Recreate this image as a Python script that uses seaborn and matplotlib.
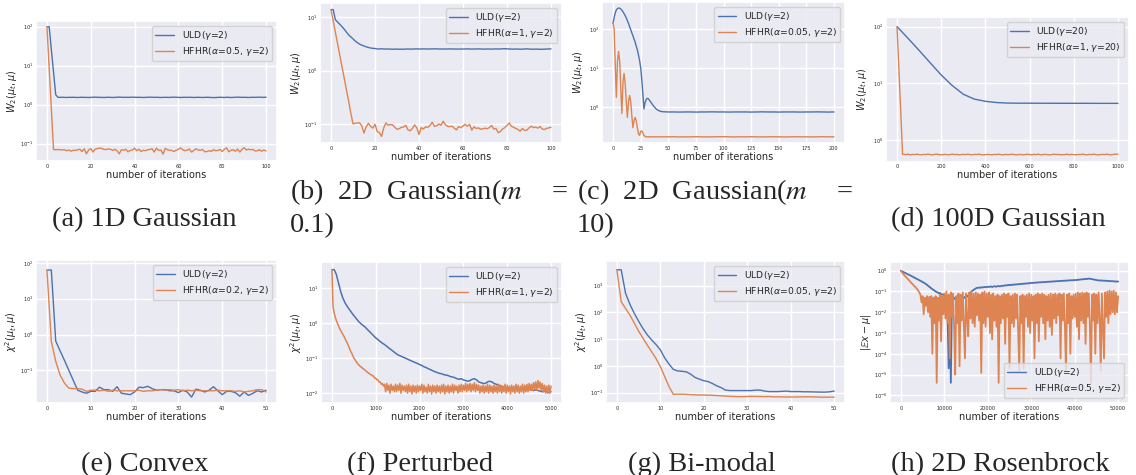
import numpy as np
import pandas as pd
import matplotlib
matplotlib.use("Agg")
import matplotlib.pyplot as plt
import seaborn as sns
from matplotlib.ticker import MultipleLocator

# ---------------- data ----------------
# (a) 1D Gaussian, W2 distance, iterations 0..100
a_uld = [100, 100, 26, 6.9, 1.8, 1.55,
         1.54, 1.55, 1.54, 1.53, 1.55, 1.54, 1.55, 1.54, 1.53, 1.54,
         1.55, 1.54, 1.54, 1.53, 1.54, 1.55, 1.56, 1.55, 1.54, 1.54,
         1.53, 1.54, 1.55, 1.54, 1.53, 1.54, 1.55, 1.57, 1.55, 1.54,
         1.55, 1.54, 1.55, 1.56, 1.55, 1.54, 1.55, 1.54, 1.53, 1.54,
         1.55, 1.56, 1.55, 1.54, 1.55, 1.54, 1.53, 1.54, 1.55, 1.54,
         1.54, 1.55, 1.56, 1.55, 1.54, 1.53, 1.54, 1.55, 1.54, 1.55,
         1.54, 1.53, 1.54, 1.55, 1.54, 1.53, 1.54, 1.55, 1.54, 1.53,
         1.52, 1.53, 1.54, 1.55, 1.54, 1.53, 1.55, 1.54, 1.53, 1.54,
         1.55, 1.56, 1.55, 1.54, 1.55, 1.54, 1.53, 1.54, 1.55, 1.54,
         1.55, 1.56, 1.55, 1.54, 1.56]
a_hfhr = [100, 8.9, 0.79,
          0.071, 0.070, 0.071, 0.070, 0.069, 0.070, 0.066, 0.069, 0.064, 0.068,
          0.067, 0.070, 0.072, 0.063, 0.074, 0.055, 0.069, 0.075, 0.061, 0.072,
          0.075, 0.077, 0.076, 0.071, 0.071, 0.073, 0.072, 0.067, 0.072, 0.066,
          0.055, 0.070, 0.068, 0.072, 0.062, 0.067, 0.069, 0.077, 0.066, 0.072,
          0.063, 0.068, 0.066, 0.070, 0.071, 0.074, 0.061, 0.077, 0.067, 0.069,
          0.054, 0.076, 0.070, 0.068, 0.067, 0.063, 0.068, 0.072, 0.078, 0.070,
          0.066, 0.068, 0.073, 0.061, 0.067, 0.074, 0.069, 0.068, 0.071, 0.062,
          0.063, 0.066, 0.063, 0.070, 0.066, 0.067, 0.071, 0.063, 0.072, 0.078,
          0.062, 0.068, 0.070, 0.064, 0.073, 0.061, 0.071, 0.079, 0.069, 0.072,
          0.070, 0.071, 0.065, 0.066, 0.070, 0.064, 0.069, 0.065]

# (b) 2D Gaussian m=0.1, iterations 0..100
b_uld = [14, 14, 9.0, 8.2, 7.4, 6.7, 6.0, 5.3, 4.7, 4.3, 3.95,
         3.6, 3.35, 3.15, 3.0, 2.9, 2.8, 2.72, 2.66, 2.62, 2.6,
         2.56, 2.55, 2.57, 2.55, 2.54, 2.55, 2.53, 2.52, 2.53, 2.54,
         2.52, 2.53, 2.52, 2.54, 2.55, 2.53, 2.54, 2.55, 2.56, 2.54,
         2.55, 2.56, 2.55, 2.54, 2.56, 2.55, 2.57, 2.56, 2.55, 2.54,
         2.55, 2.54, 2.55, 2.56, 2.55, 2.54, 2.55, 2.53, 2.55, 2.54,
         2.55, 2.56, 2.55, 2.53, 2.55, 2.54, 2.56, 2.55, 2.53, 2.54,
         2.55, 2.54, 2.53, 2.55, 2.56, 2.54, 2.55, 2.57, 2.58, 2.56,
         2.55, 2.54, 2.53, 2.55, 2.54, 2.52, 2.53, 2.55, 2.56, 2.54,
         2.53, 2.52, 2.54, 2.53, 2.51, 2.52, 2.53, 2.54, 2.55, 2.56]
b_hfhr = [14, 8.6, 5.2, 3.2, 1.94, 1.19, 0.72, 0.44, 0.27, 0.16, 0.10,
          0.102, 0.104, 0.104, 0.092, 0.067, 0.088, 0.102, 0.090, 0.083, 0.098,
          0.072, 0.068, 0.058, 0.085, 0.104, 0.094, 0.097, 0.096, 0.086, 0.079,
          0.081, 0.086, 0.087, 0.094, 0.077, 0.074, 0.082, 0.096, 0.084, 0.063,
          0.085, 0.080, 0.088, 0.086, 0.093, 0.107, 0.090, 0.092, 0.099, 0.094,
          0.112, 0.096, 0.090, 0.088, 0.091, 0.083, 0.077, 0.089, 0.085, 0.091,
          0.098, 0.090, 0.098, 0.076, 0.088, 0.082, 0.084, 0.079, 0.081, 0.083,
          0.081, 0.085, 0.093, 0.080, 0.082, 0.068, 0.072, 0.080, 0.085, 0.093,
          0.104, 0.090, 0.086, 0.082, 0.078, 0.073, 0.082, 0.075, 0.076, 0.084,
          0.090, 0.085, 0.087, 0.083, 0.089, 0.080, 0.078, 0.082, 0.084, 0.086]

# (c) 2D Gaussian m=10: iterations 0..45 every step, then 50..200 every 5
c_uld_head = [141, 200, 263, 316, 339, 351, 347, 331, 309, 282,
              251, 224, 195, 166, 141, 117, 98, 81, 68, 56,
              47, 37, 30, 22, 16, 10.5, 5.2, 2.2, 0.91, 1.32,
              1.58, 1.70, 1.66, 1.51, 1.38, 1.26, 1.15, 1.05, 0.98, 0.91,
              0.87, 0.83, 0.81, 0.79, 0.78, 0.77]
c_uld_tail = [0.76, 0.76, 0.755, 0.76, 0.76, 0.755, 0.76, 0.76, 0.765, 0.76,
              0.76, 0.755, 0.76, 0.76, 0.76, 0.755, 0.76, 0.765, 0.76, 0.76,
              0.755, 0.76, 0.76, 0.76, 0.755, 0.76, 0.76, 0.765, 0.76, 0.755,
              0.76]
c_hfhr_head = [150, 100, 12, 1.8, 15, 27, 15, 3, 0.7, 4.5,
               7.4, 4, 1.3, 0.55, 1.4, 2.0, 1.4, 0.6, 0.3, 0.45,
               0.55, 0.45, 0.3, 0.21, 0.19, 0.24, 0.25, 0.22, 0.19, 0.18,
               0.175, 0.175, 0.174, 0.175, 0.176, 0.175, 0.174, 0.175, 0.175, 0.176,
               0.175, 0.174, 0.175, 0.175, 0.176, 0.175]
c_hfhr_tail = [0.175, 0.176, 0.174, 0.175, 0.175, 0.176, 0.175, 0.174, 0.175, 0.176,
               0.177, 0.175, 0.174, 0.175, 0.175, 0.176, 0.175, 0.174, 0.175, 0.176,
               0.175, 0.174, 0.175, 0.176, 0.175, 0.175, 0.174, 0.175, 0.176, 0.175,
               0.175]

# (d) 100D Gaussian: ULD every 50 iterations; HFHR 0..25 every 5, then every 10
d_uld = [100, 62, 38, 23, 14, 9.1, 6.4, 5.25, 4.8, 4.57, 4.47,
         4.45, 4.45, 4.44, 4.44, 4.43, 4.43, 4.43, 4.42, 4.42, 4.42]
d_hfhr_head = [100, 35, 12.6, 4.5, 1.6, 0.56]
d_hfhr_tail = [0.555, 0.55, 0.56, 0.545, 0.555, 0.55, 0.56, 0.55, 0.545, 0.555,
               0.55, 0.56, 0.55, 0.545, 0.555, 0.56, 0.55, 0.545, 0.55, 0.555,
               0.545, 0.55, 0.56, 0.55, 0.555, 0.545, 0.55, 0.555, 0.55, 0.56,
               0.55, 0.545, 0.555, 0.55, 0.56, 0.55, 0.545, 0.55, 0.555, 0.55,
               0.545, 0.555, 0.55, 0.56, 0.55, 0.545, 0.555, 0.55, 0.55, 0.56,
               0.55, 0.545, 0.55, 0.555, 0.545, 0.55, 0.56, 0.55, 0.545, 0.555,
               0.55, 0.56, 0.545, 0.55, 0.555, 0.55, 0.545, 0.55, 0.56, 0.55,
               0.555, 0.545, 0.55, 0.55, 0.56, 0.545, 0.555, 0.55, 0.545, 0.555,
               0.55, 0.56, 0.55, 0.545, 0.555, 0.55, 0.56, 0.55, 0.545, 0.55,
               0.555, 0.55, 0.56, 0.55, 0.545, 0.555, 0.56, 0.56]

# (e) Convex, chi^2, iterations 0..50
e_uld = [63, 63, 0.66, 0.35, 0.19, 0.10, 0.053, 0.028, 0.025, 0.023,
         0.026, 0.026, 0.034, 0.029, 0.029, 0.026, 0.035, 0.023, 0.022, 0.021,
         0.025, 0.034, 0.033, 0.036, 0.031, 0.028, 0.029, 0.029, 0.027, 0.027,
         0.024, 0.028, 0.025, 0.018, 0.030, 0.028, 0.025, 0.028, 0.035, 0.027,
         0.021, 0.026, 0.026, 0.024, 0.019, 0.025, 0.020, 0.023, 0.027, 0.025,
         0.028]
e_hfhr = [63, 0.64, 0.18, 0.074, 0.044, 0.032, 0.031, 0.031, 0.030, 0.026,
          0.028, 0.028, 0.027, 0.028, 0.026, 0.028, 0.027, 0.027, 0.027, 0.027,
          0.027, 0.028, 0.026, 0.027, 0.027, 0.028, 0.029, 0.028, 0.029, 0.028,
          0.029, 0.027, 0.028, 0.027, 0.028, 0.027, 0.027, 0.027, 0.027, 0.028,
          0.027, 0.027, 0.027, 0.026, 0.027, 0.025, 0.026, 0.027, 0.029, 0.029,
          0.025]

# (f) Perturbed: ULD every 50 iterations, HFHR every 25 iterations
f_uld = [34, 34, 25, 14, 8.0, 5.2, 3.8, 3.0, 2.45, 2.0,
         1.65, 1.38, 1.15, 1.0, 0.88, 0.79, 0.68, 0.59, 0.51, 0.44,
         0.38, 0.34, 0.30, 0.27, 0.245, 0.22, 0.195, 0.175, 0.157, 0.14,
         0.126, 0.118, 0.111, 0.104, 0.097, 0.091, 0.085, 0.080, 0.075, 0.071,
         0.066, 0.062, 0.057, 0.054, 0.050, 0.047, 0.044, 0.041, 0.039, 0.037,
         0.036, 0.034, 0.033, 0.032, 0.030, 0.029, 0.028, 0.026, 0.025, 0.026,
         0.024, 0.023, 0.022, 0.023, 0.025, 0.026, 0.024, 0.021, 0.020, 0.019,
         0.019, 0.021, 0.022, 0.021, 0.019, 0.018, 0.017, 0.016, 0.015, 0.015,
         0.014, 0.0145, 0.014, 0.0135, 0.014, 0.0135, 0.013, 0.0135, 0.013, 0.0125,
         0.013, 0.0125, 0.012, 0.0125, 0.012, 0.0115, 0.011, 0.0115, 0.011, 0.0105,
         0.011]
f_hfhr = [34, 3.0, 2.0, 1.5, 1.2, 1.0, 0.85, 0.7, 0.62, 0.55,
          0.48, 0.42, 0.36, 0.31, 0.27, 0.23, 0.19, 0.16, 0.14, 0.12,
          0.10, 0.092, 0.080, 0.074, 0.066, 0.063, 0.057, 0.056, 0.051, 0.049,
          0.046, 0.043, 0.041, 0.038, 0.037, 0.034, 0.034, 0.031, 0.031, 0.027,
          0.027, 0.024, 0.024, 0.021, 0.021, 0.018, 0.019, 0.016,
          .018, .011, .019, .012, .017, .010, .018, .012, .016, .011,
          .018, .011, .017, .012, .019, .010, .017, .012, .016, .011,
          .017, .010, .018, .011, .016, .0095, .017, .011, .016, .010,
          .017, .011, .016, .012, .018, .010, .017, .011, .015, .010,
          .018, .011, .016, .0095, .017, .011, .016, .010, .017, .011,
          .016, .010, .017, .011, .018, .0095, .016, .011, .017, .010,
          .016, .011, .018, .010, .017, .012, .016, .010, .017, .011,
          .018, .011, .017, .012, .019, .011, .018, .012, .019, .011,
          .018, .012, .020, .011, .018, .012, .017, .010, .016, .011,
          .017, .010, .016, .011, .018, .010, .017, .011, .016, .010,
          .017, .011, .016, .010, .018, .011, .017, .010, .016, .011,
          .018, .010, .017, .011, .016, .0095, .017, .011, .016, .010,
          .018, .011, .017, .010, .016, .011, .018, .010, .017, .011,
          .018, .011, .019, .012, .018, .012, .020, .013, .021, .012,
          .023, .014, .021, .012, .019, .011, .017, .010, .016, .010,
          .017, .010, .016]

# (g) Bi-modal, iterations 0..50
g_uld = [3900, 3900, 520, 200, 93, 47, 25, 14.5, 9.4, 6.3,
         4.0, 2.0, 1.17, 0.74, 0.65, 0.63, 0.6, 0.49, 0.37, 0.32,
         0.28, 0.26, 0.22, 0.18, 0.155, 0.125, 0.12, 0.12, 0.12, 0.12,
         0.12, 0.12, 0.125, 0.125, 0.115, 0.11, 0.11, 0.11, 0.112, 0.115,
         0.11, 0.11, 0.11, 0.108, 0.108, 0.107, 0.106, 0.105, 0.105, 0.108,
         0.115]
g_hfhr = [3900, 250, 140, 80, 40, 20, 11, 6, 3.4, 1.9,
          0.95, 0.4, 0.17, 0.087, 0.088, 0.088, 0.087, 0.084, 0.083, 0.082,
          0.082, 0.081, 0.080, 0.078, 0.076, 0.075, 0.073, 0.072, 0.071, 0.071,
          0.072, 0.073, 0.072, 0.072, 0.071, 0.072, 0.070, 0.070, 0.070, 0.069,
          0.069, 0.069, 0.070, 0.070, 0.070, 0.070, 0.069, 0.068, 0.068, 0.068,
          0.068]

# (h) 2D Rosenbrock, |E x - mu|, every 250 iterations
h_uld = [1.0, 0.94, 0.88, 0.83, 0.78, 0.73, 0.69, 0.65, 0.62, 0.58,
         0.55, 0.51, 0.48, 0.45, 0.42, 0.40, 0.37, 0.35, 0.33, 0.31,
         0.28, 0.27, 0.25, 0.23, 0.21, 0.19, 0.17, 0.16, 0.14, 0.13,
         0.12, 0.11, 0.10, 0.095, 0.09, 0.08, 0.085, 0.075, 0.07, 0.072,
         0.065, 0.06, 0.05, 0.006, 2e-5, 0.01, 4e-6, 0.03, 0.045, 0.05,
         0.042, 0.048, 0.05, 0.044, 0.047, 0.052, 0.045, 0.05, 0.048, 0.055,
         0.05, 0.058, 0.065, 0.075, 0.085, 0.1, 0.11, 0.12, 0.13, 0.14,
         0.15, 0.15, 0.155, 0.15, 0.16, 0.155, 0.16, 0.165, 0.16, 0.165,
         0.17, 0.165, 0.17, 0.175, 0.165, 0.17, 0.18, 0.175, 0.17, 0.18,
         0.185, 0.175, 0.18, 0.19, 0.185, 0.19, 0.2, 0.195, 0.2, 0.21,
         0.2, 0.21, 0.205, 0.215, 0.21, 0.22, 0.215, 0.225, 0.22, 0.23,
         0.225, 0.235, 0.23, 0.24, 0.235, 0.245, 0.24, 0.25, 0.245, 0.255,
         0.26, 0.255, 0.265, 0.26, 0.27, 0.265, 0.275, 0.27, 0.28, 0.275,
         0.28, 0.285, 0.28, 0.29, 0.285, 0.295, 0.29, 0.3, 0.295, 0.305,
         0.3, 0.31, 0.305, 0.315, 0.31, 0.32, 0.315, 0.325, 0.32, 0.33,
         0.325, 0.335, 0.33, 0.34, 0.335, 0.345, 0.34, 0.35, 0.345, 0.355,
         0.35, 0.36, 0.355, 0.37, 0.365, 0.38, 0.375, 0.39, 0.385, 0.4,
         0.395, 0.41, 0.4, 0.42, 0.41, 0.4, 0.39, 0.38, 0.37, 0.36,
         0.355, 0.35, 0.34, 0.345, 0.335, 0.34, 0.33, 0.335, 0.325, 0.33,
         0.32, 0.325, 0.315, 0.32, 0.31, 0.315, 0.305, 0.31, 0.3, 0.305,
         0.3]
h_hfhr = [1.0, 0.85, 0.72, 0.62, 0.55, 0.48, 0.42, 0.37, 0.33, 0.28,
          0.25, 0.22, 0.19, 0.17, 0.15, 0.13, 0.11, 0.09, 0.07, 0.03,
          0.06, 0.008, 0.05, 0.02, 0.06, 0.01, 0.055, 0.006, 0.06, 1e-4,
          0.05, 0.003, 0.06, 4e-6, 0.05, 0.004, 0.07, 4e-4, 0.06, 0.008,
          0.08, 0.005, 0.1, 0.003, 0.07, 6e-5, 0.09, 0.006, 0.08, 0.002,
          1e-5, 0.06, 0.003, 0.08, 2.5e-5, 0.07, 0.004, 0.09, 0.002, 6e-5,
          0.08, 0.006, 7e-4, 0.09, 0.005, 0.1, 0.003, 0.08, 0.002, 0.09,
          0.007, 0.08, 0.004, 0.07, 1.2e-5, 0.09, 0.003, 0.1, 0.002, 0.08,
          0.006, 0.09, 0.001, 0.07, 5e-4, 0.08, 0.004, 0.06, 0.002, 0.07,
          4e-6, 0.06, 0.003, 0.07, 0.005, 0.08, 3e-4, 0.07, 0.006, 0.08,
          2e-5, 0.06, 0.003, 0.07, 0.002, 0.08, 0.005, 0.07, 0.001, 1.5e-5,
          0.06, 0.003, 0.07, 2e-5, 0.06, 0.006, 0.07, 0.002, 0.08, 0.001,
          0.07, 0.004, 0.06, 6e-5, 0.07, 0.003, 0.08, 4e-4, 0.07, 0.006,
          0.08, 0.003, 0.07, 5e-4, 0.06, 0.004, 0.07, 0.002, 0.08, 8e-4,
          0.07, 0.005, 0.08, 0.003, 0.07, 0.007, 0.08, 6e-5, 0.07, 0.004,
          0.08, 0.002, 1.5e-5, 0.07, 0.003, 0.08, 1e-4, 0.06, 0.005, 0.07,
          0.006, 0.08, 0.002, 0.09, 5e-4, 0.08, 0.004, 0.09, 0.003, 0.08,
          3e-4, 0.09, 0.006, 0.08, 0.002, 4e-6, 0.07, 0.004, 0.08, 1e-4,
          0.07, 0.003, 0.09, 0.005, 1.5e-5, 0.08, 0.002, 6e-5, 0.09, 0.006,
          0.1, 0.003, 0.11, 0.008, 0.1, 0.01, 0.11, 0.008, 0.09, 0.01,
          0.06]

# legend labels and captions
uld_labels = [r"ULD($\gamma$=2)"] * 3 + [r"ULD($\gamma$=20)"] + [r"ULD($\gamma$=2)"] * 4
hfhr_labels = [r"HFHR($\alpha$=0.5, $\gamma$=2)", r"HFHR($\alpha$=1, $\gamma$=2)",
               r"HFHR($\alpha$=0.05, $\gamma$=2)", r"HFHR($\alpha$=1, $\gamma$=20)",
               r"HFHR($\alpha$=0.2, $\gamma$=2)", r"HFHR($\alpha$=1, $\gamma$=2)",
               r"HFHR($\alpha$=0.05, $\gamma$=2)", r"HFHR($\alpha$=0.5, $\gamma$=2)"]
ylabels = [r"$W_2(\mu_t, \mu)$"] * 4 + [r"$\chi^2(\mu_t, \mu)$"] * 3 + [r"$|\mathbb{E}x - \mu|$"]
xlabel = "number of iterations"

# ---------------- style ----------------
sns.set_theme(style="darkgrid", palette="deep")
plt.rcParams["font.family"] = ["DejaVu Sans"]
BLUE, ORANGE = sns.color_palette("deep")[0], sns.color_palette("deep")[1]

W, H = 1136, 475
fig = plt.figure(figsize=(W / 100, H / 100), dpi=100)


def axpos(l, t, r, b):
    return [l / W, 1 - b / H, (r - l) / W, (b - t) / H]


def series_x(step, n, start=0):
    return start + step * np.arange(n)


panels = [
    # pos (l,t,r,b), uld (x,y), hfhr (x,y), ylim exponents, x tick step, legend loc, line width
    ((36, 21, 277, 161), (series_x(1, len(a_uld)), a_uld), (series_x(1, len(a_hfhr)), a_hfhr),
     (-1.444, 2.146), 20, "upper right", 1.0),
    ((320, 3, 562, 143), (series_x(1, len(b_uld)), b_uld), (series_x(1, len(b_hfhr)), b_hfhr),
     (-1.36, 1.27), 20, "upper right", 1.0),
    ((602, 2, 845, 143),
     (np.concatenate([series_x(1, len(c_uld_head)), series_x(5, len(c_uld_tail), 50)]), c_uld_head + c_uld_tail),
     (np.concatenate([series_x(1, len(c_hfhr_head)), series_x(5, len(c_hfhr_tail), 50)]), c_hfhr_head + c_hfhr_tail),
     (-0.915, 2.70), 25, "upper right", 1.0),
    ((886, 17, 1129, 162), (series_x(50, len(d_uld)), d_uld),
     (np.concatenate([series_x(5, len(d_hfhr_head)), series_x(10, len(d_hfhr_tail), 30)]), d_hfhr_head + d_hfhr_tail),
     (-0.39, 2.17), 200, "upper right", 1.0),
    ((36, 260, 277, 403), (series_x(1, len(e_uld)), e_uld), (series_x(1, len(e_hfhr)), e_hfhr),
     (-1.91, 2.08), 10, "upper right", 1.0),
    ((321, 262, 562, 403), (series_x(50, len(f_uld)), f_uld), (series_x(25, len(f_hfhr)), f_hfhr),
     (-2.28, 1.75), 1000, "upper right", 1.1),
    ((606, 261, 845, 403), (series_x(1, len(g_uld)), g_uld), (series_x(1, len(g_hfhr)), g_hfhr),
     (-1.385, 3.92), 10, "upper right", 1.0),
    ((890, 262, 1129, 403), (series_x(250, len(h_uld)), h_uld), (series_x(250, len(h_hfhr)), h_hfhr),
     (-6.37, 0.42), 10000, "lower right", 1.3),
]

for i, (pos, uld, hfhr, ylim, xstep, loc, lw) in enumerate(panels):
    l, t, r, b = pos
    ax = fig.add_axes(axpos(*pos))
    df = pd.concat([
        pd.DataFrame({"it": uld[0], "val": uld[1], "method": uld_labels[i]}),
        pd.DataFrame({"it": hfhr[0], "val": hfhr[1], "method": hfhr_labels[i]}),
    ], ignore_index=True)
    sns.lineplot(data=df, x="it", y="val", hue="method",
                 hue_order=[uld_labels[i], hfhr_labels[i]], palette=[BLUE, ORANGE],
                 estimator=None, errorbar=None, sort=False, linewidth=lw,
                 legend=False, ax=ax)
    ax.set_yscale("log")
    ax.set_ylim(10 ** ylim[0], 10 ** ylim[1])
    ax.xaxis.set_major_locator(MultipleLocator(xstep))
    ax.tick_params(which="both", length=0, labelsize=3.6, pad=1.8)
    ax.grid(True, which="major", color="white", linewidth=1.0)
    ax.set_xlabel(xlabel, fontsize=7)
    ax.set_ylabel(ylabels[i], fontsize=7)
    ax.xaxis.set_label_coords(0.5, -8.5 / (b - t))
    ax.yaxis.set_label_coords(-17.0 / (r - l), 0.5)
    leg = ax.legend(handles=ax.lines[:2], labels=[uld_labels[i], hfhr_labels[i]],
                    loc=loc, fontsize=6.7, handlelength=2.0, labelspacing=0.35,
                    borderpad=0.35, borderaxespad=0.5)
    for hl in leg.get_lines():
        hl.set_linewidth(1.0)

# ---------------- captions ----------------
CAP = dict(fontsize=20.5, family="Liberation Serif", math_fontfamily="stix")


def cap(x, y, s, ha="left", va="baseline"):
    fig.text(x / W, 1 - y / H, s, ha=ha, va=va, **CAP)


cap(144, 226, "(a) 1D Gaussian", "center")
cap(290, 199, r"(b)  2D  Gaussian($m$")
cap(568, 199, "=", "right")
cap(290, 232, "0.1)")
cap(577, 199, r"(c)  2D  Gaussian($m$")
cap(853, 199, "=", "right")
cap(577, 232, "10)")
cap(998, 226, "(d) 100D Gaussian", "center")
cap(145, 471, "(e) Convex", "center")
cap(420, 471, "(f) Perturbed", "center")
cap(702, 471, "(g) Bi-modal", "center")
cap(1000, 471, "(h) 2D Rosenbrock", "center")

fig.savefig("out.png", dpi=100)
